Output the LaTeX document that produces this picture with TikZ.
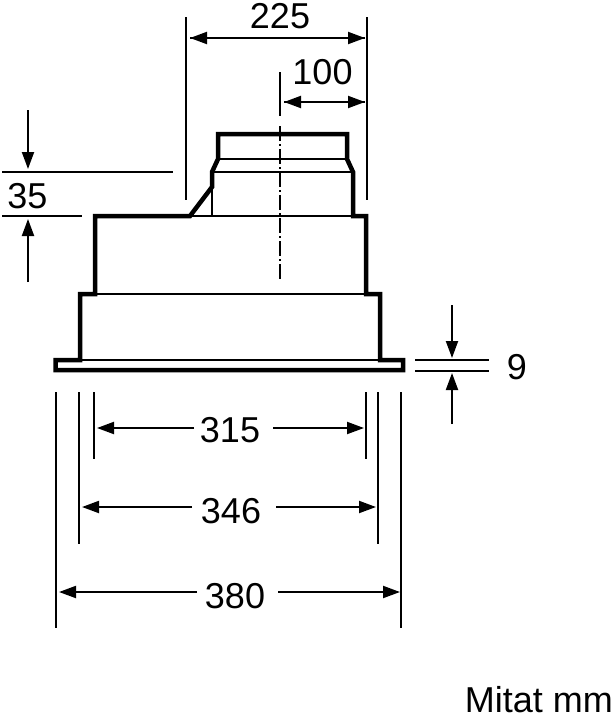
\documentclass[tikz,border=0pt]{standalone}
\usepackage{fontspec}
\setmainfont{Liberation Sans}
\usetikzlibrary{arrows.meta}
\tikzset{
  outline/.style={line width=4.5pt,line join=miter},
  thinline/.style={line width=2pt},
  dimline/.style={line width=2pt,-{Triangle[length=17pt,width=12pt]}},
  dimtext/.style={font=\fontsize{36}{36}\selectfont,inner sep=0pt,anchor=base}
}
\begin{document}
\begin{tikzpicture}[x=1pt,y=-1pt]
\useasboundingbox (0,0) rectangle (613,720);
% housing
\draw[outline] (218,134) -- (347,134) -- (347,159) -- (353,172) -- (353,216) -- (366,216) -- (366,294) -- (380,294) -- (380,360) -- (403,360) -- (403,370) -- (55.5,370) -- (55.5,360) -- (80,360) -- (80,294) -- (95,294) -- (95,216) -- (190,216) -- (212,187) -- (212,172) -- (218,159) -- cycle;
\foreach \xa/\xb/\y in {218/347/159,212/353/172,190/353/216,95/366/294,80/380/360}
\draw[thinline] (\xa,\y) -- (\xb,\y);
\draw[thinline] (212,187) -- (212,216);
% centre line
\coordinate (cla) at (280,72);
\coordinate (clb) at (280,116);
\coordinate (clc) at (280,126);
\coordinate (cld) at (280,280);
\draw[thinline] (cla) -- (clb);
\draw[thinline,dash pattern=on 15pt off 3pt on 2pt off 3pt] (clc) -- (cld);
% extension lines
\foreach \x/\ya/\yb in {186/17/200,367/17/200,56/392/628,401/392/628,79/392/544,378/392/544,94/392/459,366/392/459}
\draw[thinline] (\x,\ya) -- (\x,\yb);
\foreach \xa/\xb/\y in {2/173/171.5,2/82/215.5,415/489/360,415/489/371}
\draw[thinline] (\xa,\y) -- (\xb,\y);
% top dimensions
\node[dimtext] (lbltop) at (280,28) {225};
\node[dimtext] (lblduct) at (322.5,84) {100};
\coordinate (topl) at (190,38);
\coordinate (topr) at (365,38);
\coordinate (ductl) at (284,102);
\coordinate (ductr) at (365,102);
\draw[dimline] (topr) -- (topl);
\draw[dimline] (topl) -- (topr);
\draw[dimline] (ductr) -- (ductl);
\draw[dimline] (ductl) -- (ductr);
% 35 and 9
\node[dimtext] (lblflue) at (27.5,208) {35};
\coordinate (fluea) at (28,110);
\coordinate (flueb) at (28,169);
\coordinate (fluec) at (28,282);
\coordinate (flued) at (28,219);
\draw[dimline] (fluea) -- (flueb);
\draw[dimline] (fluec) -- (flued);
\node[dimtext] (lblrim) at (517,379) {9};
\coordinate (rima) at (452,305);
\coordinate (rimb) at (452,358);
\coordinate (rimc) at (452,424);
\coordinate (rimd) at (452,373);
\draw[dimline] (rima) -- (rimb);
\draw[dimline] (rimc) -- (rimd);
% lower dimensions
\foreach \n/\txt/\cx/\base/\y/\tl/\sl/\sr/\tr in {a/315/230/442/428/97/194/273/364,b/346/231/523/507/82/192/276/376,c/380/235/608/592/59/197/278/400}{
\node[dimtext] (lbl\n) at (\cx,\base) {\txt};
\coordinate (l\n) at (\tl,\y);
\coordinate (r\n) at (\tr,\y);
\coordinate (sl\n) at (\sl,\y);
\coordinate (sr\n) at (\sr,\y);
\draw[dimline] (sl\n) -- (l\n);
\draw[dimline] (sr\n) -- (r\n);
}
\node[dimtext,anchor=base east] (lblunit) at (613,712) {Mitat mm};
\end{tikzpicture}
\end{document}
